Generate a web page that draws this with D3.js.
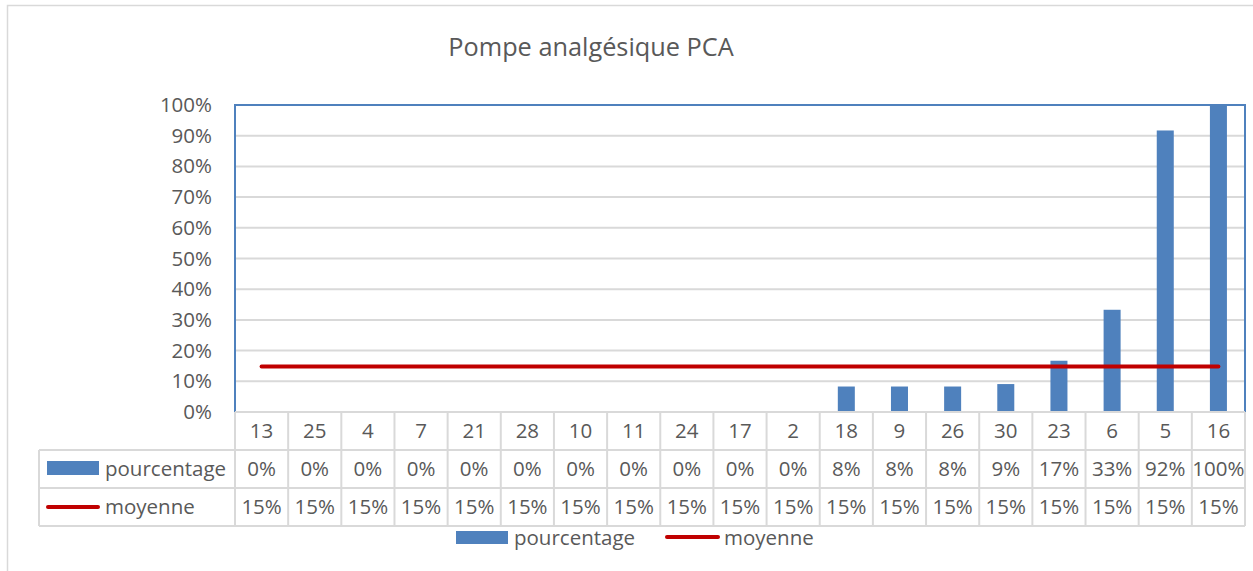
<!DOCTYPE html>
<html>
<head>
<meta charset="utf-8">
<script src="https://cdn.jsdelivr.net/npm/d3@7"></script>
<style>
  body { margin: 0; background: #fff; }
  text { font-family: "Open Sans", "Noto Sans", sans-serif; fill: #595959; }
</style>
</head>
<body>
<div id="chart"></div>
<script>
// Data
const categories = ["13", "25", "4", "7", "21", "28", "10", "11", "24", "17", "2", "18", "9", "26", "30", "23", "6", "5", "16"];
const pourcentage = [0, 0, 0, 0, 0, 0, 0, 0, 0, 0, 0, 8.3, 8.3, 8.3, 9.1, 16.7, 33.3, 91.7, 100];
const moyenne = [14.8, 14.8, 14.8, 14.8, 14.8, 14.8, 14.8, 14.8, 14.8, 14.8, 14.8, 14.8, 14.8, 14.8, 14.8, 14.8, 14.8, 14.8, 14.8];
const yTicks = [0, 10, 20, 30, 40, 50, 60, 70, 80, 90, 100];

const W = 1253, H = 571;
const plot = { left: 235, right: 1245, top: 105, bottom: 412 };
const rowH = 38;
const tableLeft = 39;
const fs = "20.5px";

const blue = "#4f81bd", red = "#c00000", grid = "#d9d9d9";
const pct = v => Math.round(v) + "%";

const svg = d3.select("#chart").append("svg")
    .attr("width", W)
    .attr("height", H);

// outer chart border
svg.append("rect")
    .attr("x", 7.5).attr("y", 5.5)
    .attr("width", W + 20).attr("height", H + 20)
    .attr("fill", "none")
    .attr("stroke", grid)
    .attr("stroke-width", 1.5);

// Title
svg.append("text")
    .attr("x", 591)
    .attr("y", 56)
    .attr("text-anchor", "middle")
    .style("font-size", "25.3px")
    .text("Pompe analgésique PCA");

const x = d3.scaleBand().domain(categories).range([plot.left, plot.right]);
const y = d3.scaleLinear().domain([0, 100]).range([plot.bottom, plot.top]);

// gridlines
svg.append("g")
    .selectAll("line")
    .data(yTicks.filter(t => t > 0 && t < 100))
    .join("line")
    .attr("x1", plot.left).attr("x2", plot.right)
    .attr("y1", d => y(d)).attr("y2", d => y(d))
    .attr("stroke", grid)
    .attr("stroke-width", 2);

// Y axis labels
const yAxis = svg.append("g")
    .attr("transform", `translate(${plot.left},0)`)
    .call(d3.axisLeft(y).tickValues(yTicks).tickFormat(d => d + "%").tickSize(0).tickPadding(23));
yAxis.select(".domain").remove();
yAxis.selectAll("text")
    .style("font-size", fs)
    .attr("fill", "#595959")
    .attr("font-family", "Open Sans");

// Bars
const bw = x.bandwidth();
svg.append("g")
    .selectAll("rect")
    .data(categories)
    .join("rect")
    .attr("x", (d, i) => x(d) + bw * 0.34)
    .attr("width", bw * 0.32)
    .attr("y", (d, i) => y(pourcentage[i]))
    .attr("height", (d, i) => y(0) - y(pourcentage[i]))
    .attr("fill", blue);

// Mean line
const line = d3.line()
    .x((d, i) => x(categories[i]) + bw / 2)
    .y(d => y(d));
svg.append("path")
    .datum(moyenne)
    .attr("d", line)
    .attr("fill", "none")
    .attr("stroke", red)
    .attr("stroke-width", 4)
    .attr("stroke-linecap", "round");

// plot area border (top, left, right)
svg.append("path")
    .attr("d", `M${plot.left},${plot.bottom}V${plot.top}H${plot.right}V${plot.bottom}`)
    .attr("fill", "none")
    .attr("stroke", blue)
    .attr("stroke-width", 2);

// Data table
const table = svg.append("g");
const rowsTop = plot.bottom;
// horizontal lines
table.append("line")
    .attr("x1", plot.left).attr("x2", plot.right)
    .attr("y1", rowsTop).attr("y2", rowsTop)
    .attr("stroke", grid).attr("stroke-width", 2);
[1, 2, 3].forEach(r => {
    table.append("line")
        .attr("x1", tableLeft).attr("x2", plot.right)
        .attr("y1", rowsTop + r * rowH).attr("y2", rowsTop + r * rowH)
        .attr("stroke", grid).attr("stroke-width", 2);
});
// vertical lines
table.selectAll(".vline")
    .data(categories)
    .join("line")
    .attr("class", "vline")
    .attr("x1", d => x(d)).attr("x2", d => x(d))
    .attr("y1", rowsTop).attr("y2", rowsTop + 3 * rowH)
    .attr("stroke", grid).attr("stroke-width", 2);
table.append("line")
    .attr("x1", plot.right).attr("x2", plot.right)
    .attr("y1", rowsTop).attr("y2", rowsTop + 3 * rowH)
    .attr("stroke", grid).attr("stroke-width", 2);
table.append("line")
    .attr("x1", tableLeft).attr("x2", tableLeft)
    .attr("y1", rowsTop + rowH).attr("y2", rowsTop + 3 * rowH)
    .attr("stroke", grid).attr("stroke-width", 2);

const rows = [
    categories,
    pourcentage.map(pct),
    moyenne.map(pct)
];
rows.forEach((vals, r) => {
    table.append("g")
        .selectAll("text")
        .data(vals)
        .join("text")
        .attr("x", (d, i) => x(categories[i]) + bw / 2)
        .attr("y", rowsTop + r * rowH + rowH / 2)
        .attr("dy", "0.36em")
        .attr("text-anchor", "middle")
        .style("font-size", fs)
        .text(d => d);
});

// row headers with legend keys
table.append("rect")
    .attr("x", 47).attr("y", rowsTop + rowH + 11)
    .attr("width", 52).attr("height", 14)
    .attr("fill", blue);
table.append("text")
    .attr("x", 105).attr("y", rowsTop + rowH * 1.5)
    .attr("dy", "0.36em")
    .style("font-size", fs)
    .text("pourcentage");
table.append("line")
    .attr("x1", 48).attr("x2", 98)
    .attr("y1", rowsTop + rowH * 2.5).attr("y2", rowsTop + rowH * 2.5)
    .attr("stroke", red).attr("stroke-width", 4).attr("stroke-linecap", "round");
table.append("text")
    .attr("x", 105).attr("y", rowsTop + rowH * 2.5)
    .attr("dy", "0.36em")
    .style("font-size", fs)
    .text("moyenne");

// Legend
const legend = svg.append("g");
legend.append("rect")
    .attr("x", 456).attr("y", 531)
    .attr("width", 52).attr("height", 13)
    .attr("fill", blue);
legend.append("text")
    .attr("x", 514).attr("y", 538)
    .attr("dy", "0.36em")
    .style("font-size", fs)
    .text("pourcentage");
legend.append("line")
    .attr("x1", 667).attr("x2", 718)
    .attr("y1", 537).attr("y2", 537)
    .attr("stroke", red).attr("stroke-width", 4).attr("stroke-linecap", "round");
legend.append("text")
    .attr("x", 724).attr("y", 538)
    .attr("dy", "0.36em")
    .style("font-size", fs)
    .text("moyenne");
</script>
</body>
</html>
